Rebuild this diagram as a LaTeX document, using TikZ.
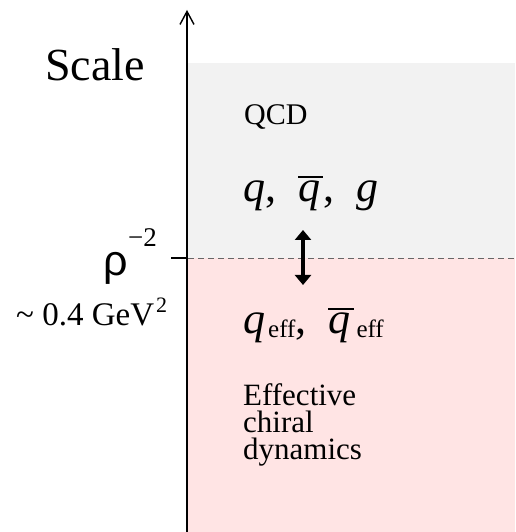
\documentclass[tikz,border=0pt]{standalone}
\usepackage{fontspec}
\setmainfont{Liberation Serif}
\newfontfamily\sansf{Liberation Sans}
\usetikzlibrary{arrows.meta}
\definecolor{qcdgray}{RGB}{242,242,242}
\definecolor{effpink}{RGB}{255,228,228}
\newcommand\qbarglyph{\vbox{\hrule height 2.5pt\kern 3pt\hbox{\itshape q\kern 3pt}}}
\newcommand\effsub{\kern 3pt\raisebox{-4pt}{\fontsize{25}{28}\selectfont eff}}
\begin{document}
\begin{tikzpicture}[x=1pt,y=1pt,
  lbl/.style={inner sep=0pt, anchor=base west},
  axisline/.style={line width=1.4pt},
]
\useasboundingbox (0,0) rectangle (515,532);
\fill[qcdgray] (188,274) rectangle (515,469);
\fill[effpink] (188,0) rectangle (515,274);
\coordinate (axbot) at (187,0);
\coordinate (axtop) at (187,522);
\coordinate (tickl) at (171,274);
\coordinate (tickr) at (188,274);
\coordinate (dashr) at (515,274);
\draw[gray!80!black, line width=0.8pt, dash pattern=on 6pt off 4pt] (tickr) -- (dashr);
\draw[axisline] (tickl) -- (tickr);
\draw[axisline, -{Straight Barb[length=13pt,width=14pt,line width=1.4pt]}] (axbot) -- (axtop);

\node[lbl] (scale) at (45,451) {\fontsize{46}{50}\selectfont Scale};
\node[lbl] (rho) at (103,256) {\sansf\fontsize{43}{46}\selectfont ρ};
\node[lbl] (rhoexp) at (128,285) {\fontsize{27}{30}\selectfont −2};
\node[lbl] (gev) at (16,206) {\fontsize{33}{36}\selectfont \textasciitilde\ 0.4 GeV\kern 2pt\raisebox{13pt}{\fontsize{22}{24}\selectfont 2}};

\node[lbl] (qcd) at (244,407) {\fontsize{30}{34}\selectfont QCD};
\node[lbl] (partons) at (243,330) {\fontsize{44}{50}\selectfont \textit{q},\ \ \qbarglyph,\ \ \textit{g}};
\node[lbl] (effq) at (243,198) {\fontsize{44}{50}\selectfont \textit{q}\effsub,\ \ \qbarglyph\effsub};
\node[inner sep=0pt, anchor=base west, align=left, font=\fontsize{31}{27}\selectfont] (effdyn) at (243,72) {Effective\\chiral\\dynamics};

\coordinate (arrtop) at (303,302);
\coordinate (arrbot) at (303,247);
\draw[line width=3.5pt, {Triangle[width=16pt,length=10pt]}-{Triangle[width=16pt,length=10pt]}] (arrtop) -- (arrbot);
\end{tikzpicture}
\end{document}
